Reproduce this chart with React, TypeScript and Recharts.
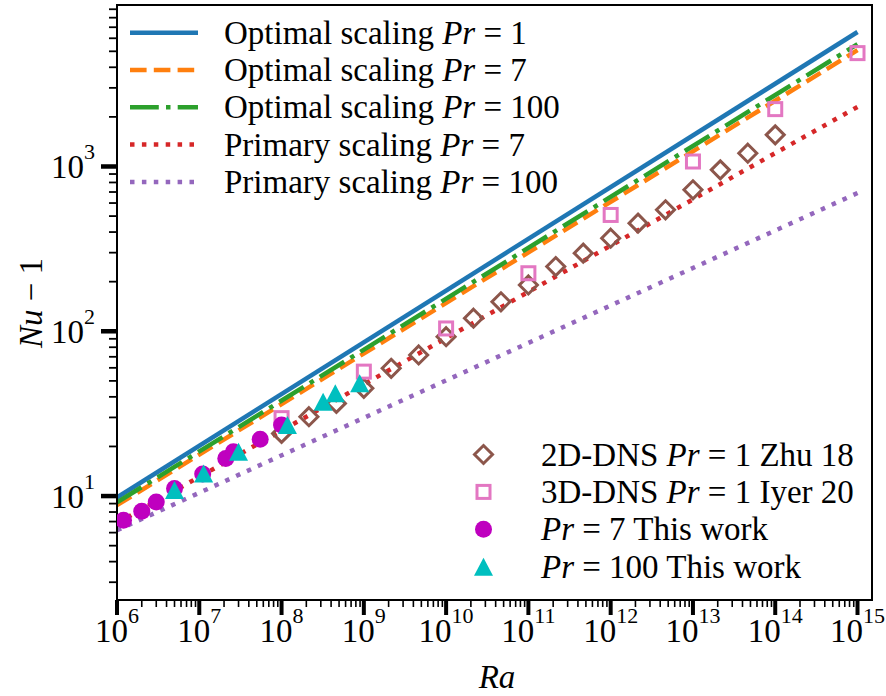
import { ComposedChart, Line, Scatter, XAxis, YAxis, Customized } from 'recharts';

// Scaling laws, straight lines in log-log space (Ra at the two ends)
const lineRa = [1e6, 1e15];
const optimalPr1 = [9.8, 6550];
const optimalPr7 = [8.8, 5080];
const optimalPr100 = [9.15, 5530];
const primaryPr7 = [6.85, 2300];
const primaryPr100 = [6.2, 690];

// 2D-DNS, Pr = 1 (Zhu 18)
const zhuRa = [1e8, 2.15e8, 4.64e8, 1e9, 2.15e9, 4.64e9, 1e10, 2.15e10, 4.64e10, 1e11, 2.15e11, 4.64e11, 1e12, 2.15e12, 4.64e12, 1e13, 2.15e13, 4.64e13, 1e14];
const zhuNu = [24.0, 30.3, 36.5, 45.1, 59.6, 71.8, 92.7, 120, 151, 191, 247, 298, 367, 453, 546, 722, 954, 1204, 1556];

// 3D-DNS, Pr = 1 (Iyer 20)
const iyerRa = [1e8, 1e9, 1e10, 1e11, 1e12, 1e13, 1e14, 1e15];
const iyerNu = [29.7, 56.9, 104, 225, 508, 1072, 2229, 4875];

// this work
const pr7Ra = [1.2e6, 2e6, 3e6, 5e6, 1.1e7, 2.1e7, 2.6e7, 5.5e7, 1e8];
const pr7Nu = [7.14, 8.1, 9.2, 11.1, 13.6, 16.9, 18.6, 22.1, 27.0];
const pr100Ra = [5e6, 1.13e7, 3e7, 1.18e8, 3.2e8, 4.5e8, 8.9e8];
const pr100Nu = [10.9, 13.7, 18.6, 27.0, 37.4, 42.1, 48.3];

// axis ticks
const xDecades = [1e6, 1e7, 1e8, 1e9, 1e10, 1e11, 1e12, 1e13, 1e14, 1e15];
const yDecades = [1, 10, 100, 1000];
const X_DOMAIN = [1e6, 1.5e15];
const Y_DOMAIN = [2.34, 9550];

const minorOf = (decades: number[], lo: number, hi: number) =>
  decades.flatMap((d) => [2, 3, 4, 5, 6, 7, 8, 9].map((m) => m * d)).filter((v) => v >= lo && v <= hi);
const xTicks = [...xDecades, ...minorOf(xDecades.slice(0, -1), X_DOMAIN[0], X_DOMAIN[1])];
const yTicks = [...yDecades.filter((v) => v >= Y_DOMAIN[0]), ...minorOf(yDecades, Y_DOMAIN[0], Y_DOMAIN[1])];

const W = 886;
const H = 696;
const PLOT = { left: 117, top: 5, right: 872, bottom: 600 };
const FONT = "'Liberation Serif', 'DejaVu Serif', serif";
const FS = 33;
const SUP = 22;
const txt = { fontFamily: FONT, fontSize: FS, fill: '#000' };

const C = {
  blue: '#1f77b4',
  orange: '#ff7f0e',
  green: '#2ca02c',
  red: '#d62728',
  purple: '#9467bd',
  brown: '#8c564b',
  pink: '#e377c2',
  magenta: '#bf00bf',
  cyan: '#00bfbf',
};
const LW = 4.5;
const DASHED = '16.6 7.2';
const DASHDOT = '28.8 7.2 4.5 7.2';
const DOTTED = '4.5 7.4';

const pts = (xs: number[], ys: number[]) => xs.map((x, i) => ({ x, y: ys[i] }));

const isMajor = (v: number) => Math.abs(Math.log10(v) - Math.round(Math.log10(v))) < 1e-6;

const XTick = (props: any) => {
  const { x, y, payload } = props;
  const v = payload.value;
  const major = isMajor(v);
  return (
    <g>
      <line x1={x} x2={x} y1={y} y2={y + (major ? 15 : 7)} stroke="#000" strokeWidth={major ? 4 : 1.6} />
      {major && (
        <text x={x} y={y + 42} textAnchor="middle" style={txt}>
          10<tspan dy={-19} style={{ fontSize: SUP }}>{Math.round(Math.log10(v))}</tspan>
        </text>
      )}
    </g>
  );
};

const YTick = (props: any) => {
  const { x, y, payload } = props;
  const v = payload.value;
  const major = isMajor(v);
  return (
    <g>
      <line x1={x - (major ? 16 : 8)} x2={x} y1={y} y2={y} stroke="#000" strokeWidth={major ? 4.5 : 1.8} />
      {major && (
        <text x={x - 22} y={y + 12} textAnchor="end" style={txt}>
          10<tspan dy={-19} style={{ fontSize: SUP }}>{Math.round(Math.log10(v))}</tspan>
        </text>
      )}
    </g>
  );
};

const Diamond = ({ cx, cy }: any) => (
  <path d={`M${cx},${cy - 9}L${cx + 9},${cy}L${cx},${cy + 9}L${cx - 9},${cy}Z`} fill="none" stroke={C.brown} strokeWidth={3} />
);
const Square = ({ cx, cy }: any) => (
  <rect x={cx - 6.5} y={cy - 6.5} width={13} height={13} fill="none" stroke={C.pink} strokeWidth={3} />
);
const Dot = ({ cx, cy }: any) => <circle cx={cx} cy={cy} r={8.5} fill={C.magenta} />;
const Triangle = ({ cx, cy }: any) => (
  <path d={`M${cx},${cy - 9}L${cx + 9.5},${cy + 9}L${cx - 9.5},${cy + 9}Z`} fill={C.cyan} />
);

const Pr = () => <tspan style={{ fontStyle: 'italic' }}>Pr</tspan>;

const lineLegend = [
  { label: 'Optimal scaling', pr: '1', color: C.blue, dash: undefined },
  { label: 'Optimal scaling', pr: '7', color: C.orange, dash: DASHED },
  { label: 'Optimal scaling', pr: '100', color: C.green, dash: DASHDOT },
  { label: 'Primary scaling', pr: '7', color: C.red, dash: DOTTED },
  { label: 'Primary scaling', pr: '100', color: C.purple, dash: DOTTED },
];

const Overlay = () => {
  const rowH = 37.3;
  return (
    <g>
      <rect
        x={PLOT.left}
        y={PLOT.top}
        width={PLOT.right - PLOT.left}
        height={PLOT.bottom - PLOT.top}
        fill="none"
        stroke="#000"
        strokeWidth={2}
      />
      {lineLegend.map((e, i) => {
        const cy = 32.7 + i * rowH;
        return (
          <g key={i}>
            <line x1={130} x2={198} y1={cy} y2={cy} stroke={e.color} strokeWidth={LW} strokeDasharray={e.dash} />
            <text x={224} y={cy + 11} style={txt}>
              {e.label} <Pr /> = {e.pr}
            </text>
          </g>
        );
      })}
      {[0, 1, 2, 3].map((i) => {
        const cy = 454.5 + i * 37.4;
        const cx = 483.5;
        const marker =
          i === 0 ? <Diamond cx={cx} cy={cy} /> : i === 1 ? <Square cx={cx} cy={cy} /> : i === 2 ? <Dot cx={cx} cy={cy} /> : <Triangle cx={cx} cy={cy} />;
        const text =
          i === 0 ? (
            <>2D-DNS <Pr /> = 1 Zhu 18</>
          ) : i === 1 ? (
            <>3D-DNS <Pr /> = 1 Iyer 20</>
          ) : i === 2 ? (
            <><Pr /> = 7 This work</>
          ) : (
            <><Pr /> = 100 This work</>
          );
        return (
          <g key={`m${i}`}>
            {marker}
            <text x={541} y={cy + 11} style={txt}>{text}</text>
          </g>
        );
      })}
      <text x={497} y={688} textAnchor="middle" style={{ ...txt, fontStyle: 'italic' }}>Ra</text>
      <text x={42} y={303} textAnchor="middle" transform="rotate(-90, 42, 303)" style={txt}>
        <tspan style={{ fontStyle: 'italic' }}>Nu</tspan> − 1
      </text>
    </g>
  );
};

export default function App() {
  return (
    <div style={{ position: 'absolute', left: 0, top: 0, width: W, height: H, background: '#fff', fontFamily: FONT }}>
      <ComposedChart
        width={W}
        height={H}
        margin={{ top: PLOT.top, right: W - PLOT.right, bottom: 0, left: 0 }}
      >
        <XAxis
          dataKey="x"
          type="number"
          scale="log"
          domain={X_DOMAIN}
          allowDataOverflow
          ticks={xTicks}
          interval={0}
          tick={<XTick />}
          tickLine={false}
          tickSize={0}
          tickMargin={0}
          axisLine={{ stroke: '#000', strokeWidth: 2 }}
          height={H - PLOT.bottom}
        />
        <YAxis
          dataKey="y"
          type="number"
          scale="log"
          domain={Y_DOMAIN}
          allowDataOverflow
          ticks={yTicks}
          interval={0}
          tick={<YTick />}
          tickLine={false}
          tickSize={0}
          tickMargin={0}
          axisLine={{ stroke: '#000', strokeWidth: 2 }}
          width={PLOT.left}
        />
        <Line data={pts(lineRa, optimalPr1)} dataKey="y" stroke={C.blue} strokeWidth={LW} dot={false} isAnimationActive={false} />
        <Line data={pts(lineRa, optimalPr7)} dataKey="y" stroke={C.orange} strokeWidth={LW} strokeDasharray={DASHED} dot={false} isAnimationActive={false} />
        <Line data={pts(lineRa, optimalPr100)} dataKey="y" stroke={C.green} strokeWidth={LW} strokeDasharray={DASHDOT} dot={false} isAnimationActive={false} />
        <Line data={pts(lineRa, primaryPr7)} dataKey="y" stroke={C.red} strokeWidth={LW} strokeDasharray={DOTTED} dot={false} isAnimationActive={false} />
        <Line data={pts(lineRa, primaryPr100)} dataKey="y" stroke={C.purple} strokeWidth={LW} strokeDasharray={DOTTED} dot={false} isAnimationActive={false} />
        <Scatter data={pts(zhuRa, zhuNu)} dataKey="y" shape={<Diamond />} isAnimationActive={false} />
        <Scatter data={pts(iyerRa, iyerNu)} dataKey="y" shape={<Square />} isAnimationActive={false} />
        <Scatter data={pts(pr7Ra, pr7Nu)} dataKey="y" shape={<Dot />} isAnimationActive={false} />
        <Scatter data={pts(pr100Ra, pr100Nu)} dataKey="y" shape={<Triangle />} isAnimationActive={false} />
        <Customized component={Overlay} />
      </ComposedChart>
    </div>
  );
}
